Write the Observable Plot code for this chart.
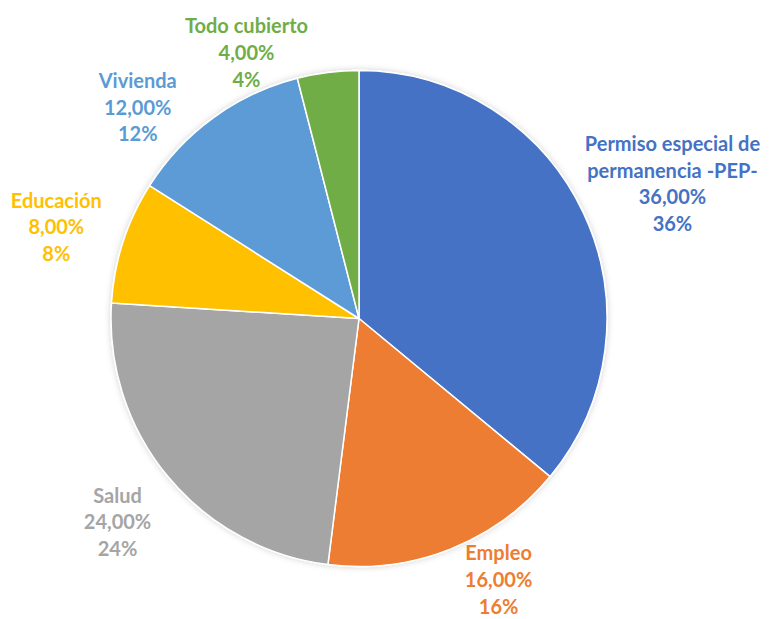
<!DOCTYPE html>
<html>
<head>
<meta charset="utf-8">
<script src="https://cdn.jsdelivr.net/npm/d3@7"></script>
<script src="https://cdn.jsdelivr.net/npm/@observablehq/plot@0.6"></script>
<style>
  html, body { margin: 0; padding: 0; background: #fff; }
  #chart svg { display: block; }
</style>
</head>
<body>
<div id="chart"></div>
<script>
// ---- data ----
const categories = ["Permiso especial de permanencia -PEP-", "Empleo", "Salud", "Educación", "Vivienda", "Todo cubierto"];
const labelLines = [["Permiso especial de", "permanencia -PEP-"], ["Empleo"], ["Salud"], ["Educación"], ["Vivienda"], ["Todo cubierto"]];
const values = [36, 16, 24, 8, 12, 4];
const colors = ["#4472C4", "#ED7D31", "#A5A5A5", "#FFC000", "#5B9BD5", "#70AD47"];

// ---- layout (label placement relative to each slice's mid-angle) ----
const labelAngleShift = [1.6, -6.6, -0.2, -0.9, -10.2, -15.7]; // degrees
const labelRadius = [1.377, 1.187, 1.27, 1.279, 1.239, 1.171];  // in pie radii

const W = 770, H = 619;
const CX = 359, CY = 318.5, R = 248;

const pie = d3.pie().sort(null).value(d => d.value).startAngle(0).endAngle(2 * Math.PI);
const rows = categories.map((c, i) => ({category: c, value: values[i], color: colors[i], i}));
const arcs = pie(rows);

const fmt2 = v => v.toFixed(2).replace(".", ",") + "%";
const labels = arcs.map((a, i) => {
  const mid = (a.startAngle + a.endAngle) / 2 + labelAngleShift[i] * Math.PI / 180;
  const r = labelRadius[i];
  return {
    x: Math.sin(mid) * r,
    y: Math.cos(mid) * r,
    text: [...labelLines[i], fmt2(values[i]), Math.round(values[i]) + "%"].join("\n"),
    color: colors[i]
  };
});

function pieMark(index, scales, values, dimensions, context) {
  const cx = scales.x(0), cy = scales.y(0);
  const rad = scales.x(1) - scales.x(0);
  const arcGen = d3.arc().innerRadius(0).outerRadius(rad);
  const g = d3.create("svg:g");
  const defs = g.append("defs");
  const f = defs.append("filter").attr("id", "pieshadow").attr("x", "-20%").attr("y", "-20%").attr("width", "140%").attr("height", "140%");
  f.append("feDropShadow").attr("dx", 0).attr("dy", 0).attr("stdDeviation", 3).attr("flood-color", "#000").attr("flood-opacity", 0.18);
  g.append("g")
    .attr("transform", `translate(${cx},${cy})`)
    .attr("filter", "url(#pieshadow)")
    .selectAll("path")
    .data(arcs)
    .join("path")
    .attr("d", arcGen)
    .attr("fill", d => d.data.color)
    .attr("stroke", "#fff")
    .attr("stroke-width", 1.5)
    .attr("stroke-linejoin", "round");
  return g.node();
}

const chart = Plot.plot({
  width: W,
  height: H,
  margin: 0,
  x: {type: "linear", domain: [-CX / R, (W - CX) / R], range: [0, W], axis: null},
  y: {type: "linear", domain: [-(H - CY) / R, CY / R], range: [H, 0], axis: null},
  style: {background: "#fff", fontFamily: "Lato, 'Open Sans', sans-serif"},
  marks: [
    pieMark,
    Plot.text(labels, {
      x: "x",
      y: "y",
      text: "text",
      fill: d => d.color,
      fontSize: 20,
      fontWeight: "bold",
      lineHeight: 1.33,
      textAnchor: "middle",
      lineAnchor: "middle"
    })
  ]
});
document.getElementById("chart").appendChild(chart);
</script>
</body>
</html>
